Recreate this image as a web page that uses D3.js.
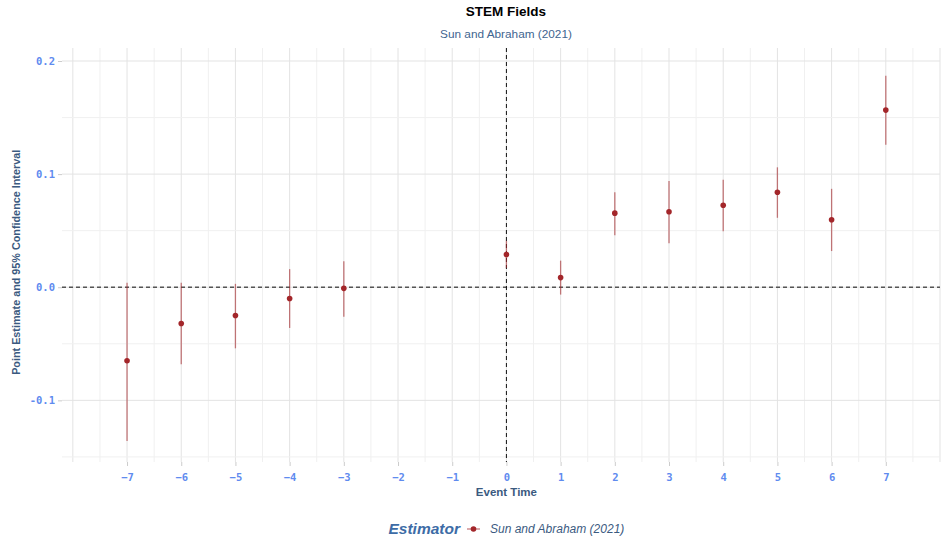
<!DOCTYPE html>
<html>
<head>
<meta charset="utf-8">
<script src="https://cdn.jsdelivr.net/npm/d3@7"></script>
<style>
  body { margin: 0; background: #fff; }
  svg { display: block; }
</style>
</head>
<body>
<div id="chart"></div>
<script>
// data
var eventTimes = [-7, -6, -5, -4, -3, 0, 1, 2, 3, 4, 5, 6, 7];
var estimates  = [-0.065, -0.032, -0.025, -0.010, -0.001, 0.029, 0.0085, 0.0655, 0.0667, 0.0725, 0.084, 0.0596, 0.1566];
var ciLow      = [-0.136, -0.068, -0.054, -0.036, -0.026, 0.017, -0.0065, 0.046, 0.0388, 0.0496, 0.0614, 0.032, 0.126];
var ciHigh     = [0.004, 0.004, 0.003, 0.016, 0.023, 0.041, 0.0235, 0.084, 0.094, 0.095, 0.106, 0.087, 0.187];
var xTicks = [-7, -6, -5, -4, -3, -2, -1, 0, 1, 2, 3, 4, 5, 6, 7];
var yTicks = [-0.1, 0.0, 0.1, 0.2];
var estimatorName = "Sun and Abraham (2021)";

var svgWidth = 942;
var svgHeight = 539;
var margin = { top: 48, right: 2, bottom: 77, left: 62 };
var width = svgWidth - margin.left - margin.right;
var height = svgHeight - margin.top - margin.bottom;

var pointColor = "#a3262a";
var tickColor = "#5f8bef";
var titleBlue = "#3b5a7f";

var svg = d3.select("#chart")
  .append("svg")
  .attr("width", svgWidth)
  .attr("height", svgHeight);

var g = svg.append("g")
  .attr("transform", `translate(${margin.left}, ${margin.top})`);

var x = d3.scaleLinear().domain([-8.2, 8.0]).range([0, width]);
var y = d3.scaleLinear().domain([-0.1545, 0.2115]).range([height, 0]);

// gridlines: minor every 0.5 / 0.05, major at ticks
var xMinor = d3.range(-8, 8.01, 0.5);
var yMinor = [-0.15, -0.05, 0.05, 0.15];
var yMajor = yTicks;

g.selectAll(".xgrid").data(xMinor).enter().append("line")
  .attr("x1", d => x(d)).attr("x2", d => x(d))
  .attr("y1", 0).attr("y2", height)
  .attr("stroke", d => Number.isInteger(d) ? "#e3e3e3" : "#f0f0f0")
  .attr("stroke-width", 1);

g.selectAll(".yminor").data(yMinor).enter().append("line")
  .attr("x1", 0).attr("x2", width)
  .attr("y1", d => y(d)).attr("y2", d => y(d))
  .attr("stroke", "#f0f0f0");

g.selectAll(".ymajor").data(yMajor).enter().append("line")
  .attr("x1", 0).attr("x2", width)
  .attr("y1", d => y(d)).attr("y2", d => y(d))
  .attr("stroke", "#e3e3e3");

// reference lines
g.append("line")
  .attr("x1", 0).attr("x2", width)
  .attr("y1", y(0)).attr("y2", y(0))
  .attr("stroke", "#555")
  .attr("stroke-width", 1.3)
  .attr("stroke-dasharray", "4,3");

g.append("line")
  .attr("x1", x(0)).attr("x2", x(0))
  .attr("y1", 0).attr("y2", height)
  .attr("stroke", "#111")
  .attr("stroke-width", 1)
  .attr("stroke-dasharray", "4,3");

// axes
var bottomAxis = d3.axisBottom(x).tickValues(xTicks).tickSize(4).tickFormat(d => d < 0 ? "\u2212" + Math.abs(d) : d);
var leftAxis = d3.axisLeft(y).tickValues(yTicks).tickSize(4).tickFormat(d3.format(".1f"));

var xAxisG = g.append("g")
  .attr("transform", `translate(0, ${height})`)
  .call(bottomAxis);
var yAxisG = g.append("g").call(leftAxis);

[xAxisG, yAxisG].forEach(function(a) {
  a.select(".domain").remove();
  a.selectAll(".tick line").attr("stroke", "#ccc");
  a.selectAll(".tick text")
    .attr("fill", tickColor)
    .style("font-family", "'DejaVu Sans Mono', monospace")
    .style("font-weight", "bold")
    .style("font-size", "10.5px");
});
xAxisG.selectAll(".tick text").attr("dy", "1.1em");
yAxisG.selectAll(".tick text").text(d => d < 0 ? "-" + Math.abs(d).toFixed(1) : d.toFixed(1));

// error bars and points
var rows = eventTimes.map((t, i) => ({ t: t, est: estimates[i], lo: ciLow[i], hi: ciHigh[i] }));

g.selectAll(".ci").data(rows).enter().append("line")
  .attr("x1", d => x(d.t)).attr("x2", d => x(d.t))
  .attr("y1", d => y(d.lo)).attr("y2", d => y(d.hi))
  .attr("stroke", pointColor)
  .attr("stroke-opacity", 0.6)
  .attr("stroke-width", 1.3);

g.selectAll(".pt").data(rows).enter().append("circle")
  .attr("cx", d => x(d.t))
  .attr("cy", d => y(d.est))
  .attr("r", 2.8)
  .attr("fill", pointColor);

// titles
svg.append("text")
  .attr("x", 506).attr("y", 16)
  .attr("text-anchor", "middle")
  .style("font-family", "'Liberation Sans', Arial, sans-serif")
  .style("font-weight", "bold")
  .style("font-size", "13.5px")
  .attr("fill", "#000")
  .text("STEM Fields");

svg.append("text")
  .attr("x", 506).attr("y", 38)
  .attr("text-anchor", "middle")
  .style("font-family", "'Liberation Sans', Arial, sans-serif")
  .style("font-size", "11.8px")
  .attr("fill", "#3f6590")
  .text(estimatorName);

svg.append("text")
  .attr("x", margin.left + x(0)).attr("y", 496)
  .attr("text-anchor", "middle")
  .style("font-family", "'Liberation Sans', Arial, sans-serif")
  .style("font-weight", "bold")
  .style("font-size", "11.5px")
  .attr("fill", titleBlue)
  .text("Event Time");

svg.append("text")
  .attr("transform", `translate(20, ${margin.top + y(0.022)}) rotate(-90)`)
  .attr("text-anchor", "middle")
  .style("font-family", "'Liberation Sans', Arial, sans-serif")
  .style("font-weight", "bold")
  .style("font-size", "10.8px")
  .attr("fill", titleBlue)
  .text("Point Estimate and 95% Confidence Interval");

// legend
var legend = svg.append("g").attr("transform", "translate(0, 529)");
legend.append("text")
  .attr("x", 460).attr("y", 5)
  .attr("text-anchor", "end")
  .style("font-family", "'Liberation Sans', Arial, sans-serif")
  .style("font-weight", "bold")
  .style("font-style", "italic")
  .style("font-size", "15.5px")
  .attr("fill", "#3d6ca6")
  .text("Estimator");
legend.append("line")
  .attr("x1", 467).attr("x2", 480).attr("y1", 0).attr("y2", 0)
  .attr("stroke", pointColor).attr("stroke-opacity", 0.6).attr("stroke-width", 1.3);
legend.append("circle")
  .attr("cx", 473.5).attr("cy", 0).attr("r", 2.8).attr("fill", pointColor);
legend.append("text")
  .attr("x", 490).attr("y", 4)
  .style("font-family", "'Liberation Sans', Arial, sans-serif")
  .style("font-style", "italic")
  .style("font-size", "12px")
  .attr("fill", "#3b5a7f")
  .text(estimatorName);
</script>
</body>
</html>
